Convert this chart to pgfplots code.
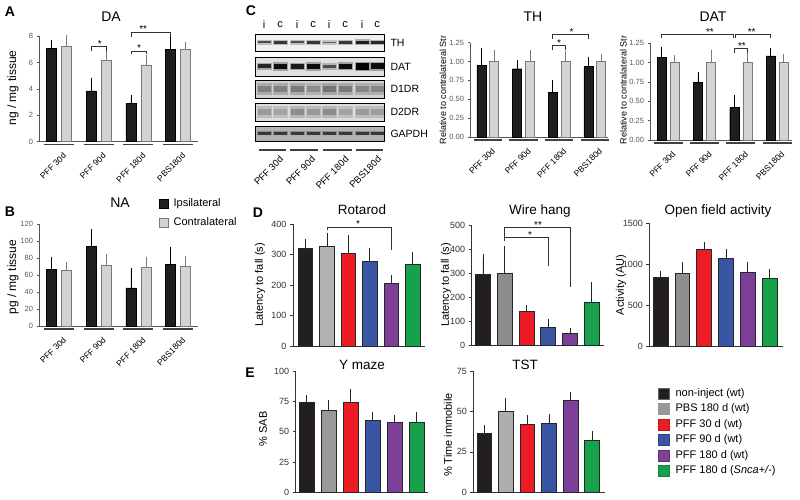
\documentclass[border=0pt]{standalone}
\usepackage{pgfplots}
\pgfplotsset{compat=1.18}
\usepackage{fontspec}
\setmainfont{Liberation Sans}
\newcommand{\fsz}[1]{\fontsize{#1}{#1}\selectfont}
\definecolor{cblk}{HTML}{1E1E1E}
\definecolor{clgray}{HTML}{D3D3D3}
\definecolor{cedge}{HTML}{7A7A7A}
\definecolor{caxis}{HTML}{555555}
\definecolor{dblk}{HTML}{231F20}
\definecolor{cred}{HTML}{ED1C24}
\definecolor{cblue}{HTML}{3A55A4}
\definecolor{cpurp}{HTML}{7E3F98}
\definecolor{cgreen}{HTML}{17A14B}
\tikzset{
 sig/.style={font=\fsz{10}, inner sep=0pt, anchor=south, yshift=-1pt},
 brk/.style={line width=0.6pt, draw=black!80},
 gline/.style={line width=1.3pt, draw=black!75},
}
\pgfplotsset{
 base/.style={scale only axis, anchor=south west, clip=false, ymin=0,
   axis x line=bottom, axis y line=left, axis line style={-},
   tick align=outside,
   /pgf/number format/assume math mode=true, /pgf/number format/1000 sep={}},
 abc/.style={base, xmin=0.5, xmax=4.5,
   axis line style={draw=caxis, line width=0.6pt},
   ytick style={draw=caxis, line width=0.6pt}, major tick length=2.5pt,
   xtick={1,2,3,4}, xticklabels={PFF 30d,PFF 90d,PFF 180d,PBS180d},
   xtick style={draw=none},
   xticklabel style={rotate=45, anchor=north east, font=\fsz{8.5}, inner sep=0pt, xshift=-3pt, yshift=-8pt},
   yticklabel style={font=\fsz{7.5}, text=black!65}},
 ipsi/.style={ybar, bar width=0.25, bar shift=0, fill=cblk, draw=black, line width=0.4pt, forget plot,
   error bars/.cd, y dir=plus, y explicit, error bar style={draw=black, line width=0.6pt},
   error mark options={draw=black, line width=0.6pt, mark size=2.5pt}},
 contra/.style={ybar, bar width=0.25, bar shift=0, fill=clgray, draw=cedge, line width=0.6pt, forget plot,
   error bars/.cd, y dir=plus, y explicit, error bar style={draw=cedge, line width=0.6pt},
   error mark options={draw=cedge, line width=0.6pt, mark size=2.5pt}},
 de/.style={base, axis line style={draw=black!80, line width=0.7pt},
   ytick style={draw=black!80, line width=0.7pt}, major tick length=3pt, xtick=\empty,
   yticklabel style={font=\fsz{9}, text=black!80}},
 dbar/.style={ybar, bar width=0.68, bar shift=0, fill=#1, draw=black!85, line width=0.5pt, forget plot,
   error bars/.cd, y dir=plus, y explicit, error bar style={draw=black!85, line width=0.6pt},
   error mark options={draw=black!85, line width=0.6pt, mark size=3.5pt}},
}
\begin{document}
\begin{tikzpicture}
\useasboundingbox (0pt,0pt) rectangle (800pt,500pt);

% ---------------- A : DA
\begin{axis}[abc, at={(39pt,358.3pt)}, width=159pt, height=105.7pt, ymax=8, ytick={0,2,4,6,8}]
\addplot[ipsi] coordinates {(0.81,7.07) +- (0,0.45) (1.81,3.84) +- (0,0.81) (2.81,2.9) +- (0,0.43) (3.81,6.97) +- (0,0.83)};
\addplot[contra] coordinates {(1.19,7.2) +- (0,0.7) (2.19,6.16) +- (0,0.53) (3.19,5.81) +- (0,0.55) (4.19,6.97) +- (0,0.4)};
\draw[gline] ([yshift=-3pt]axis cs:0.62,0) -- ([yshift=-3pt]axis cs:1.38,0);
\draw[gline] ([yshift=-3pt]axis cs:1.62,0) -- ([yshift=-3pt]axis cs:2.38,0);
\draw[gline] ([yshift=-3pt]axis cs:2.62,0) -- ([yshift=-3pt]axis cs:3.38,0);
\draw[gline] ([yshift=-3pt]axis cs:3.62,0) -- ([yshift=-3pt]axis cs:4.38,0);
\draw[brk] (axis cs:1.81,6.85) |- (axis cs:2.19,7.2) -- (axis cs:2.19,6.85);
\node[sig] at (axis cs:2.03,7.2) {*};
\draw[brk] (axis cs:2.81,6.6) |- (axis cs:3.19,6.87) -- (axis cs:3.19,6.6);
\node[sig] at (axis cs:3.02,6.87) {*};
\draw[brk] (axis cs:2.81,7.95) |- (axis cs:3.81,8.3) -- (axis cs:3.81,7.95);
\node[sig] at (axis cs:3.12,8.3) {**};
\end{axis}

% ---------------- B : NA
\begin{axis}[abc, at={(39pt,174pt)}, width=159pt, height=101.7pt, ymax=120, ytick={0,20,...,120},
  legend image code/.code={\draw[#1] (0pt,-4.5pt) rectangle (9pt,4.5pt);},
  legend style={at={(0.7547,1.2586)}, anchor=north west, draw=none, fill=none, font=\fsz{11},
    inner sep=0pt, row sep=8.5pt, column sep=5pt, nodes={inner sep=0pt, text height=8pt, text depth=2.5pt}},
  legend cell align=left]
\addplot[ipsi] coordinates {(0.81,66.5) +- (0,12.5) (1.81,93.6) +- (0,17.5) (2.81,45) +- (0,21) (3.81,73) +- (0,17)};
\addplot[contra] coordinates {(1.19,66) +- (0,6.7) (2.19,71.6) +- (0,10) (3.19,69) +- (0,9.5) (4.19,70.4) +- (0,9.6)};
\draw[gline] ([yshift=-3pt]axis cs:0.62,0) -- ([yshift=-3pt]axis cs:1.38,0);
\draw[gline] ([yshift=-3pt]axis cs:1.62,0) -- ([yshift=-3pt]axis cs:2.38,0);
\draw[gline] ([yshift=-3pt]axis cs:2.62,0) -- ([yshift=-3pt]axis cs:3.38,0);
\draw[gline] ([yshift=-3pt]axis cs:3.62,0) -- ([yshift=-3pt]axis cs:4.38,0);
\addlegendimage{fill=cblk, draw=black}
\addlegendentry{Ipsilateral}
\addlegendimage{fill=clgray, draw=cedge}
\addlegendentry{Contralateral}
\end{axis}

% ---------------- C : TH
\begin{axis}[abc, at={(470pt,363pt)}, width=138pt, height=94.3pt, xmax=4.37, ymax=1.25,
  ytick={0,0.25,0.5,0.75,1,1.25},
  /pgf/number format/fixed, /pgf/number format/fixed zerofill, /pgf/number format/precision=2]
\addplot[ipsi] coordinates {(0.82,0.954) +- (0,0.19) (1.82,0.905) +- (0,0.085) (2.82,0.596) +- (0,0.128) (3.82,0.932) +- (0,0.1)};
\addplot[contra] coordinates {(1.18,1.0) +- (0,0.115) (2.18,1.0) +- (0,0.12) (3.18,1.0) +- (0,0.11) (4.18,1.0) +- (0,0.07)};
\draw[gline] ([yshift=-3pt]axis cs:0.6,0) -- ([yshift=-3pt]axis cs:1.4,0);
\draw[gline] ([yshift=-3pt]axis cs:1.6,0) -- ([yshift=-3pt]axis cs:2.4,0);
\draw[gline] ([yshift=-3pt]axis cs:2.6,0) -- ([yshift=-3pt]axis cs:3.4,0);
\draw[gline] ([yshift=-3pt]axis cs:3.6,0) -- ([yshift=-3pt]axis cs:4.4,0);
\draw[brk] (axis cs:2.82,1.15) |- (axis cs:3.18,1.21) -- (axis cs:3.18,1.15);
\node[sig] at (axis cs:3.0,1.21) {*};
\draw[brk] (axis cs:2.82,1.30) |- (axis cs:3.82,1.36) -- (axis cs:3.82,1.30);
\node[sig] at (axis cs:3.35,1.36) {*};
\end{axis}

% ---------------- C : DAT
\begin{axis}[abc, at={(650pt,360pt)}, width=142pt, height=96.7pt, xmax=4.41, ymax=1.25,
  ytick={0,0.25,0.5,0.75,1,1.25},
  /pgf/number format/fixed, /pgf/number format/fixed zerofill, /pgf/number format/precision=2]
\addplot[ipsi] coordinates {(0.82,1.065) +- (0,0.105) (1.82,0.746) +- (0,0.1) (2.82,0.42) +- (0,0.13) (3.82,1.086) +- (0,0.07)};
\addplot[contra] coordinates {(1.18,1.0) +- (0,0.06) (2.18,1.0) +- (0,0.13) (3.18,1.0) +- (0,0.11) (4.18,1.0) +- (0,0.085)};
\draw[gline] ([yshift=-3pt]axis cs:0.6,0) -- ([yshift=-3pt]axis cs:1.4,0);
\draw[gline] ([yshift=-3pt]axis cs:1.6,0) -- ([yshift=-3pt]axis cs:2.4,0);
\draw[gline] ([yshift=-3pt]axis cs:2.6,0) -- ([yshift=-3pt]axis cs:3.4,0);
\draw[gline] ([yshift=-3pt]axis cs:3.6,0) -- ([yshift=-3pt]axis cs:4.4,0);
\draw[brk] (axis cs:0.82,1.32) |- (axis cs:2.80,1.366) -- (axis cs:2.80,1.32);
\node[sig] at (axis cs:2.15,1.366) {**};
\draw[brk] (axis cs:2.86,1.32) |- (axis cs:3.82,1.366) -- (axis cs:3.82,1.32);
\node[sig] at (axis cs:3.3,1.366) {**};
\draw[brk] (axis cs:2.82,1.13) |- (axis cs:3.18,1.185) -- (axis cs:3.18,1.13);
\node[sig] at (axis cs:3.03,1.185) {**};
\end{axis}

% ---------------- D : Rotarod
\begin{axis}[de, at={(293pt,154pt)}, width=132pt, height=121.7pt, xmin=0.42, xmax=6.58, ymax=400, ytick={0,100,...,400}]
\addplot[dbar=dblk] coordinates {(1,321) +- (0,20)};
\addplot[dbar={black!30}] coordinates {(2,327) +- (0,32)};
\addplot[dbar=cred] coordinates {(3,305) +- (0,49)};
\addplot[dbar=cblue] coordinates {(4,277.5) +- (0,32.5)};
\addplot[dbar=cpurp] coordinates {(5,204.6) +- (0,18.4)};
\addplot[dbar=cgreen] coordinates {(6,269) +- (0,27)};
\draw[brk] (axis cs:2,380) |- (axis cs:5,391) -- (axis cs:5,315);
\node[sig] at (axis cs:3.46,391) {*};
\end{axis}

% ---------------- D : Wire hang
\begin{axis}[de, at={(471.7pt,154.3pt)}, width=132pt, height=120pt, xmin=0.48, xmax=6.56, ymax=500, ytick={0,100,...,500}]
\addplot[dbar=dblk] coordinates {(1,296) +- (0,70)};
\addplot[dbar={black!45}] coordinates {(2,300) +- (0,102)};
\addplot[dbar=cred] coordinates {(3,143) +- (0,13)};
\addplot[dbar=cblue] coordinates {(4,76) +- (0,22)};
\addplot[dbar=cpurp] coordinates {(5,53) +- (0,8)};
\addplot[dbar=cgreen] coordinates {(6,182) +- (0,68)};
\draw[brk] (axis cs:2,436) |- (axis cs:5,492) -- (axis cs:5,246);
\draw[brk] (axis cs:2,450) -- (axis cs:4,450) -- (axis cs:4,332);
\node[sig] at (axis cs:3.54,492) {**};
\node[sig] at (axis cs:3.17,450) {*};
\end{axis}

% ---------------- D : Open field
\begin{axis}[de, at={(649.3pt,153.3pt)}, width=134pt, height=123.4pt, xmin=0.486, xmax=6.63, ymax=1500, ytick={0,500,1000,1500}]
\addplot[dbar=dblk] coordinates {(1,841) +- (0,42)};
\addplot[dbar={black!44}] coordinates {(2,895) +- (0,89)};
\addplot[dbar=cred] coordinates {(3,1188) +- (0,44)};
\addplot[dbar=cblue] coordinates {(4,1078) +- (0,61)};
\addplot[dbar=cpurp] coordinates {(5,907) +- (0,81)};
\addplot[dbar=cgreen] coordinates {(6,826) +- (0,76)};
\end{axis}

% ---------------- E : Y maze
\begin{axis}[de, at={(295.7pt,7.7pt)}, width=132.3pt, height=121.3pt, xmin=0.51, xmax=6.52, ymax=100, ytick={0,25,...,100}]
\addplot[dbar=dblk] coordinates {(1,74.5) +- (0,2.5)};
\addplot[dbar={black!40}] coordinates {(2,67.8) +- (0,5)};
\addplot[dbar=cred] coordinates {(3,74.6) +- (0,7.7)};
\addplot[dbar=cblue] coordinates {(4,59) +- (0,4.7)};
\addplot[dbar=cpurp] coordinates {(5,57.8) +- (0,3.2)};
\addplot[dbar=cgreen] coordinates {(6,57.8) +- (0,5.9)};
\end{axis}

% ---------------- E : TST (+ legend)
\begin{axis}[de, at={(473.3pt,7.7pt)}, width=131.7pt, height=121.3pt, xmin=0.5, xmax=6.6, ymax=75, ytick={0,25,50,75},
  legend image code/.code={\draw[#1] (0pt,-5.5pt) rectangle (11pt,5.5pt);},
  legend style={at={(1.4024,0.8615)}, anchor=north west, draw=none, fill=none, font=\fsz{11},
    inner sep=0pt, row sep=4pt, column sep=6pt, nodes={inner sep=0pt, text height=8pt, text depth=2.5pt}},
  legend cell align=left]
\addplot[dbar=dblk] coordinates {(1,36.5) +- (0,2.9)};
\addplot[dbar={black!32}] coordinates {(2,49.9) +- (0,6.1)};
\addplot[dbar=cred] coordinates {(3,42.3) +- (0,3.5)};
\addplot[dbar=cblue] coordinates {(4,42.5) +- (0,3.9)};
\addplot[dbar=cpurp] coordinates {(5,56.7) +- (0,2.9)};
\addplot[dbar=cgreen] coordinates {(6,32.4) +- (0,3.6)};
\addlegendimage{fill=dblk, draw=black!60}
\addlegendentry{non-inject (wt)}
\addlegendimage{fill={black!40}, draw=black!40}
\addlegendentry{PBS 180 d (wt)}
\addlegendimage{fill=cred, draw=cred!80!black}
\addlegendentry{PFF 30 d (wt)}
\addlegendimage{fill=cblue, draw=cblue!80!black}
\addlegendentry{PFF 90 d (wt)}
\addlegendimage{fill=cpurp, draw=cpurp!80!black}
\addlegendentry{PFF 180 d (wt)}
\addlegendimage{fill=cgreen, draw=cgreen!80!black}
\addlegendentry{PFF 180 d (\textit{Snca+/-})}
\end{axis}

% ---------------- texts, blot
\begin{scope}[x=1pt,y=1pt]
% titles
\node[font=\fsz{14}] at (111,483) {DA};
\node[font=\fsz{14}] at (120,297) {NA};
\node[font=\fsz{14}] at (533,483) {TH};
\node[font=\fsz{14}] at (713,483) {DAT};
\node[font=\fsz{13.5}] at (362,290) {Rotarod};
\node[font=\fsz{13.5}] at (540,289) {Wire hang};
\node[font=\fsz{13.5}] at (718,289) {Open field activity};
\node[font=\fsz{13.5}] at (362,135) {Y maze};
\node[font=\fsz{13.5}] at (525,135) {TST};
% panel letters
\node[font=\bfseries\fsz{14}] at (10,488) {A};
\node[font=\bfseries\fsz{14}] at (10,288.5) {B};
\node[font=\bfseries\fsz{14}] at (251,489) {C};
\node[font=\bfseries\fsz{14}] at (258,287) {D};
\node[font=\bfseries\fsz{14}] at (250,127) {E};
% y labels
\node[rotate=90, font=\fsz{12}] at (13,412) {ng / mg tissue};
\node[rotate=90, font=\fsz{12}] at (13,223) {pg / mg tissue};
\node[rotate=90, font=\fsz{9}] at (443,410) {Relative to contralateral Str};
\node[rotate=90, font=\fsz{9}] at (623.5,410) {Relative to contralateral Str};
\node[rotate=90, font=\fsz{11}] at (260,215) {Latency to fall (s)};
\node[rotate=90, font=\fsz{11}] at (446,215) {Latency to fall (s)};
\node[rotate=90, font=\fsz{11}] at (621,215) {Activity (AU)};
\node[rotate=90, font=\fsz{11}] at (263,71) {\% SAB};
\node[rotate=90, font=\fsz{11}] at (448,65) {\% Time immobile};
% blot lane labels
\foreach \cx/\t in {264/i,280/c,297/i,313/c,329/i,345/c,362/i,377/c}
  \node[font=\fsz{11}] at (\cx,475) {\t};
% TH row
\fill[black!6] (255,449) rectangle (384,466);
\foreach \cx/\h/\d in {264/2.0/70,280/2.6/78,297/2.0/70,313/2.6/78,329/1.8/62,345/2.6/78,362/3.4/88,377/3.2/85}{
  \fill[black!\d,opacity=0.3] (\cx-7.5,{457.5-\h/2-1.3}) rectangle (\cx+7.5,{457.5+\h/2+1.3});
  \fill[black!\d] (\cx-6.5,{457.5-\h/2}) rectangle (\cx+6.5,{457.5+\h/2});}
\draw[line width=0.8pt] (255,449) rectangle (384,466);
% DAT row
\fill[black!12] (255,424) rectangle (384,443);
\foreach \cx/\h/\d in {264/4/85,280/5.5/95,297/4.5/90,313/5.5/95,329/3.5/70,345/5/95,362/6.5/100,377/6/95}{
  \fill[black!\d,opacity=0.3] (\cx-7.5,{433.5-\h/2-1.5}) rectangle (\cx+7.5,{433.5+\h/2+1.5});
  \fill[black!\d] (\cx-6.5,{433.5-\h/2}) rectangle (\cx+6.5,{433.5+\h/2});}
\draw[line width=0.8pt] (255,424) rectangle (384,443);
% D1DR row
\fill[black!18] (255,402) rectangle (384,420);
\foreach \cx/\d in {264/50,280/50,297/52,313/45,329/55,345/52,362/48,377/48}{
  \fill[black!\d,opacity=0.45] (\cx-7.5,405) rectangle (\cx+7.5,417);
  \fill[black!\d] (\cx-6.5,408) rectangle (\cx+6.5,414);}
\draw[line width=0.8pt] (255,402) rectangle (384,420);
% D2DR row
\fill[black!14] (255,379) rectangle (384,397);
\foreach \cx/\d in {264/40,280/36,297/45,313/40,329/45,345/36,362/40,377/38}{
  \fill[black!\d,opacity=0.45] (\cx-7.5,382) rectangle (\cx+7.5,394);
  \fill[black!\d] (\cx-6.5,385) rectangle (\cx+6.5,391);}
\draw[line width=0.8pt] (255,379) rectangle (384,397);
% GAPDH row
\fill[black!30] (255,359) rectangle (384,374);
\foreach \cx in {264,280,297,313,329,345,362,377}{
  \fill[black!75,opacity=0.35] (\cx-7.5,364.5) rectangle (\cx+7.5,368.5);
  \fill[black!78] (\cx-6.5,365.3) rectangle (\cx+6.5,367.7);}
\draw[line width=0.8pt] (255,359) rectangle (384,374);
% row labels
\node[anchor=west, font=\fsz{10.5}] at (387,457.5) {TH};
\node[anchor=west, font=\fsz{10.5}] at (387,433.5) {DAT};
\node[anchor=west, font=\fsz{10.5}] at (387,411) {D1DR};
\node[anchor=west, font=\fsz{10.5}] at (387,388) {D2DR};
\node[anchor=west, font=\fsz{10.5}] at (387,366.5) {GAPDH};
% group lines and labels under blot
\draw[gline] (259,350) -- (286,350);
\draw[gline] (290,350) -- (318,350);
\draw[gline] (323,350) -- (352,350);
\draw[gline] (356,350) -- (383,350);
\node[rotate=45, anchor=north east, font=\fsz{9.5}, inner sep=0pt] at (279,345) {PFF 30d};
\node[rotate=45, anchor=north east, font=\fsz{9.5}, inner sep=0pt] at (311,345) {PFF 90d};
\node[rotate=45, anchor=north east, font=\fsz{9.5}, inner sep=0pt] at (344.5,345) {PFF 180d};
\node[rotate=45, anchor=north east, font=\fsz{9.5}, inner sep=0pt] at (377,345) {PBS180d};
\end{scope}
\end{tikzpicture}
\end{document}
